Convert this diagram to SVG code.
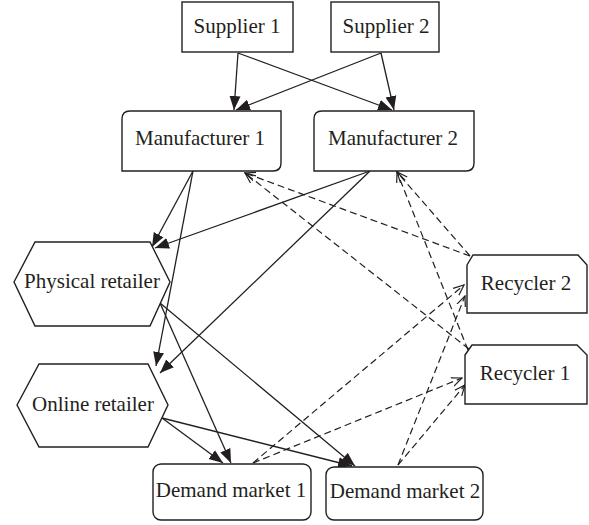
<svg xmlns="http://www.w3.org/2000/svg" width="589" height="525" viewBox="0 0 589 525">
<defs>
<style>
.box{fill:#fff;stroke:#231f20;stroke-width:1.4}
.lbl{font-family:"Liberation Serif","Times New Roman",serif;font-size:21px;fill:#231f20;text-anchor:middle}
.sol{stroke:#231f20;stroke-width:1.3;fill:none;marker-end:url(#fa)}
.dsh{stroke:#231f20;stroke-width:1.2;fill:none;stroke-dasharray:7 4;marker-end:url(#oa)}
</style>
<marker id="fa" markerUnits="userSpaceOnUse" markerWidth="15" markerHeight="12" refX="14" refY="5.5" orient="auto" viewBox="0 0 15 11">
<path d="M0,0 L14,5.5 L0,11 z" fill="#231f20"/>
</marker>
<marker id="oa" markerUnits="userSpaceOnUse" markerWidth="12" markerHeight="12" refX="10.5" refY="5" orient="auto" viewBox="0 0 12 10">
<path d="M0,0.5 L10.5,5 L0,9.5" fill="none" stroke="#231f20" stroke-width="1.2"/>
</marker>
</defs>
<rect width="589" height="525" fill="#fff"/>
<g id="connectors">
<line class="sol" x1="238" y1="53" x2="234" y2="110"/>
<line class="sol" x1="381" y1="53" x2="236" y2="110"/>
<line class="sol" x1="238" y1="53" x2="392" y2="110"/>
<line class="sol" x1="381" y1="53" x2="394" y2="110"/>
<line class="sol" x1="193" y1="171" x2="152" y2="247"/>
<line class="sol" x1="370" y1="171" x2="155" y2="248"/>
<line class="sol" x1="193" y1="171" x2="156" y2="366"/>
<line class="sol" x1="370" y1="171" x2="160" y2="373"/>
<line class="sol" x1="160" y1="303" x2="231" y2="463"/>
<line class="sol" x1="160" y1="303" x2="355" y2="466"/>
<line class="sol" x1="162" y1="418" x2="223" y2="463"/>
<line class="sol" x1="162" y1="418" x2="352" y2="466"/>
<line class="dsh" x1="470" y1="256" x2="245" y2="173"/>
<line class="dsh" x1="469" y1="349" x2="245" y2="173"/>
<line class="dsh" x1="470" y1="256" x2="397" y2="172"/>
<line class="dsh" x1="468" y1="350" x2="397" y2="172"/>
<line class="dsh" x1="253" y1="463" x2="464" y2="285"/>
<line class="dsh" x1="253" y1="463" x2="462" y2="378"/>
<line class="dsh" x1="398" y1="465" x2="465" y2="296"/>
<line class="dsh" x1="398" y1="465" x2="465" y2="385"/>
</g>
<g id="supplier1">
<rect class="box" x="182" y="2" width="111" height="50"/>
<text class="lbl" x="237" y="33">Supplier 1</text>
</g>
<g id="supplier2">
<rect class="box" x="331" y="2" width="108" height="50"/>
<text class="lbl" x="386" y="33">Supplier 2</text>
</g>
<g id="manufacturer1">
<path class="box" d="M130,111 H281 V163 Q281,171 273,171 H122 V119 Q122,111 130,111 Z"/>
<text class="lbl" x="200" y="145">Manufacturer 1</text>
</g>
<g id="manufacturer2">
<path class="box" d="M322,111 H474 V163 Q474,171 466,171 H314 V119 Q314,111 322,111 Z"/>
<text class="lbl" x="393" y="145">Manufacturer 2</text>
</g>
<g id="physical-retailer">
<path class="box" d="M14,282 L35,242 L150,242 L170,282 L150,326 L35,326 Z"/>
<text class="lbl" x="92" y="288">Physical retailer</text>
</g>
<g id="online-retailer">
<path class="box" d="M17,405 L39,364 L148,364 L168,405 L148,447 L39,447 Z"/>
<text class="lbl" x="93" y="411">Online retailer</text>
</g>
<g id="demand-market1">
<rect class="box" x="153" y="464" width="158" height="56" rx="8"/>
<text class="lbl" x="231" y="497">Demand market 1</text>
</g>
<g id="demand-market2">
<rect class="box" x="326" y="467" width="157" height="53" rx="8"/>
<text class="lbl" x="405" y="498">Demand market 2</text>
</g>
<g id="recycler2">
<path class="box" d="M467,265 L473,255 L578,255 L587,265 L587,313 L467,313 Z"/>
<text class="lbl" x="526" y="290">Recycler 2</text>
</g>
<g id="recycler1">
<path class="box" d="M465,355 L472,345 L577,345 L587,355 L587,404 L465,404 Z"/>
<text class="lbl" x="525" y="380">Recycler 1</text>
</g>
</svg>
